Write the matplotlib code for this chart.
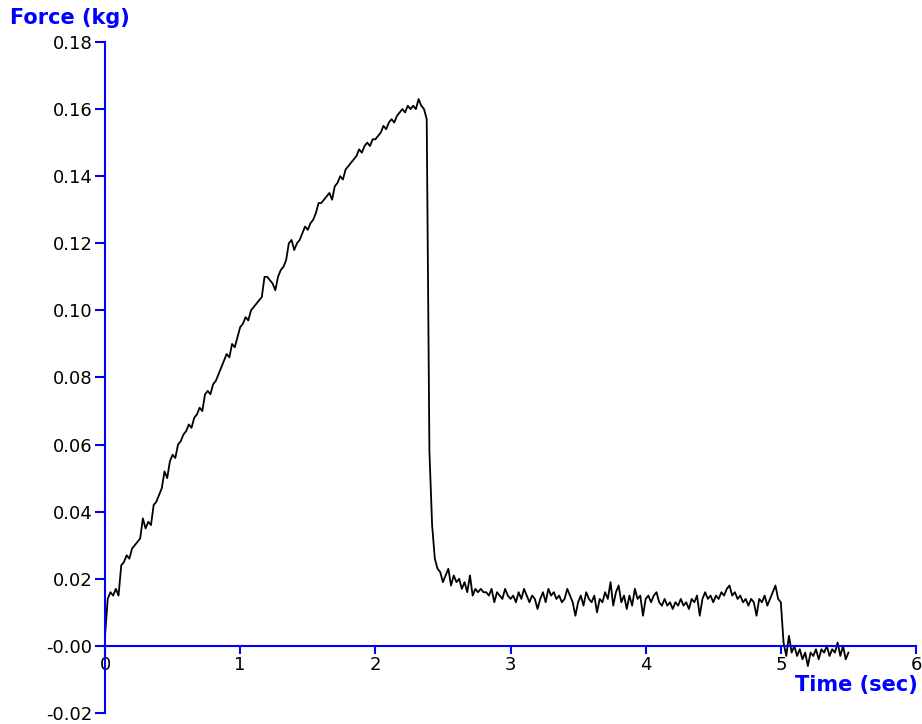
#!/usr/bin/env python3
"""Force vs time trace with axes crossing at the origin."""

import numpy as np
import matplotlib

matplotlib.use("Agg")
import matplotlib.pyplot as plt

# sampling interval of the trace (s)
dt = 0.02

# force readings (kg), one row per 0.2 s
force = [
    0.003, 0.014, 0.016, 0.015, 0.017, 0.015, 0.024, 0.025, 0.027, 0.026,
    0.029, 0.030, 0.031, 0.032, 0.038, 0.035, 0.037, 0.036, 0.042, 0.043,
    0.045, 0.047, 0.052, 0.050, 0.055, 0.057, 0.056, 0.060, 0.061, 0.063,
    0.064, 0.066, 0.065, 0.068, 0.069, 0.071, 0.070, 0.075, 0.076, 0.075,
    0.078, 0.079, 0.081, 0.083, 0.085, 0.087, 0.086, 0.090, 0.089, 0.092,
    0.095, 0.096, 0.098, 0.097, 0.100, 0.101, 0.102, 0.103, 0.104, 0.110,
    0.110, 0.109, 0.108, 0.106, 0.110, 0.112, 0.113, 0.115, 0.120, 0.121,
    0.118, 0.120, 0.121, 0.123, 0.125, 0.124, 0.126, 0.127, 0.129, 0.132,
    0.132, 0.133, 0.134, 0.135, 0.133, 0.137, 0.138, 0.140, 0.139, 0.142,
    0.143, 0.144, 0.145, 0.146, 0.148, 0.147, 0.149, 0.150, 0.149, 0.151,
    0.151, 0.152, 0.153, 0.155, 0.154, 0.156, 0.157, 0.156, 0.158, 0.159,
    0.160, 0.159, 0.161, 0.160, 0.161, 0.160, 0.163, 0.161, 0.160, 0.157,
    0.058, 0.036, 0.026, 0.023, 0.022, 0.019, 0.021, 0.023, 0.018, 0.021,
    0.019, 0.020, 0.017, 0.019, 0.016, 0.021, 0.015, 0.017, 0.016, 0.017,
    0.016, 0.016, 0.015, 0.017, 0.013, 0.016, 0.015, 0.014, 0.017, 0.015,
    0.014, 0.015, 0.013, 0.016, 0.014, 0.017, 0.015, 0.013, 0.015, 0.014,
    0.011, 0.014, 0.016, 0.013, 0.017, 0.015, 0.016, 0.014, 0.015, 0.013,
    0.014, 0.017, 0.015, 0.013, 0.009, 0.013, 0.015, 0.012, 0.016, 0.014,
    0.013, 0.015, 0.010, 0.014, 0.013, 0.016, 0.014, 0.019, 0.012, 0.016,
    0.018, 0.013, 0.015, 0.011, 0.015, 0.012, 0.017, 0.014, 0.015, 0.009,
    0.014, 0.015, 0.013, 0.015, 0.016, 0.013, 0.012, 0.014, 0.012, 0.013,
    0.011, 0.013, 0.012, 0.014, 0.012, 0.013, 0.011, 0.014, 0.013, 0.015,
    0.009, 0.014, 0.016, 0.014, 0.015, 0.013, 0.015, 0.014, 0.016, 0.015,
    0.017, 0.018, 0.015, 0.016, 0.014, 0.015, 0.013, 0.014, 0.012, 0.014,
    0.013, 0.009, 0.014, 0.013, 0.015, 0.012, 0.014, 0.016, 0.018, 0.014,
    0.013, 0.001, -0.003, 0.003, -0.002, 0.000, -0.003, -0.001, -0.004, -0.002,
    -0.006, -0.002, -0.003, -0.001, -0.004, -0.001, -0.002, 0.000, -0.003, -0.001,
    -0.002, 0.001, -0.003, 0.000, -0.004, -0.002,
]

x_ticks = [0, 1, 2, 3, 4, 5, 6]
y_ticks = [-0.02, 0.0, 0.02, 0.04, 0.06, 0.08, 0.10, 0.12, 0.14, 0.16, 0.18]
y_labels = ["-0.02", "-0.00", "0.02", "0.04", "0.06", "0.08",
            "0.10", "0.12", "0.14", "0.16", "0.18"]

blue = "#0000ff"
time = np.arange(len(force)) * dt

fig = plt.figure(figsize=(9.22, 7.24), dpi=100)
ax = fig.add_axes([0.1139, 0.0152, 0.8796, 0.9268])

ax.plot(time, force, color="black", lw=1.3)

ax.set_xlim(0, 6)
ax.set_ylim(-0.02, 0.18)

# axes cross at the origin
ax.spines["left"].set_position(("data", 0))
ax.spines["bottom"].set_position(("data", 0))
ax.spines["top"].set_visible(False)
ax.spines["right"].set_visible(False)
for s in ("left", "bottom"):
    ax.spines[s].set_color(blue)
    ax.spines[s].set_linewidth(1.5)

ax.set_xticks(x_ticks)
ax.set_yticks(y_ticks)
ax.set_yticklabels(y_labels)
ax.tick_params(axis="both", colors=blue, labelcolor="black", labelsize=13,
               width=1.5)
ax.tick_params(axis="y", direction="out", length=7, pad=2)
ax.tick_params(axis="x", direction="out", length=6, pad=1)

fig.text(0.011, 0.975, "Force (kg)", color=blue, fontsize=15,
         fontweight="bold", ha="left", va="center")
fig.text(0.995, 0.054, "Time (sec)", color=blue, fontsize=15,
         fontweight="bold", ha="right", va="center")

fig.savefig("out.png", dpi=100)
